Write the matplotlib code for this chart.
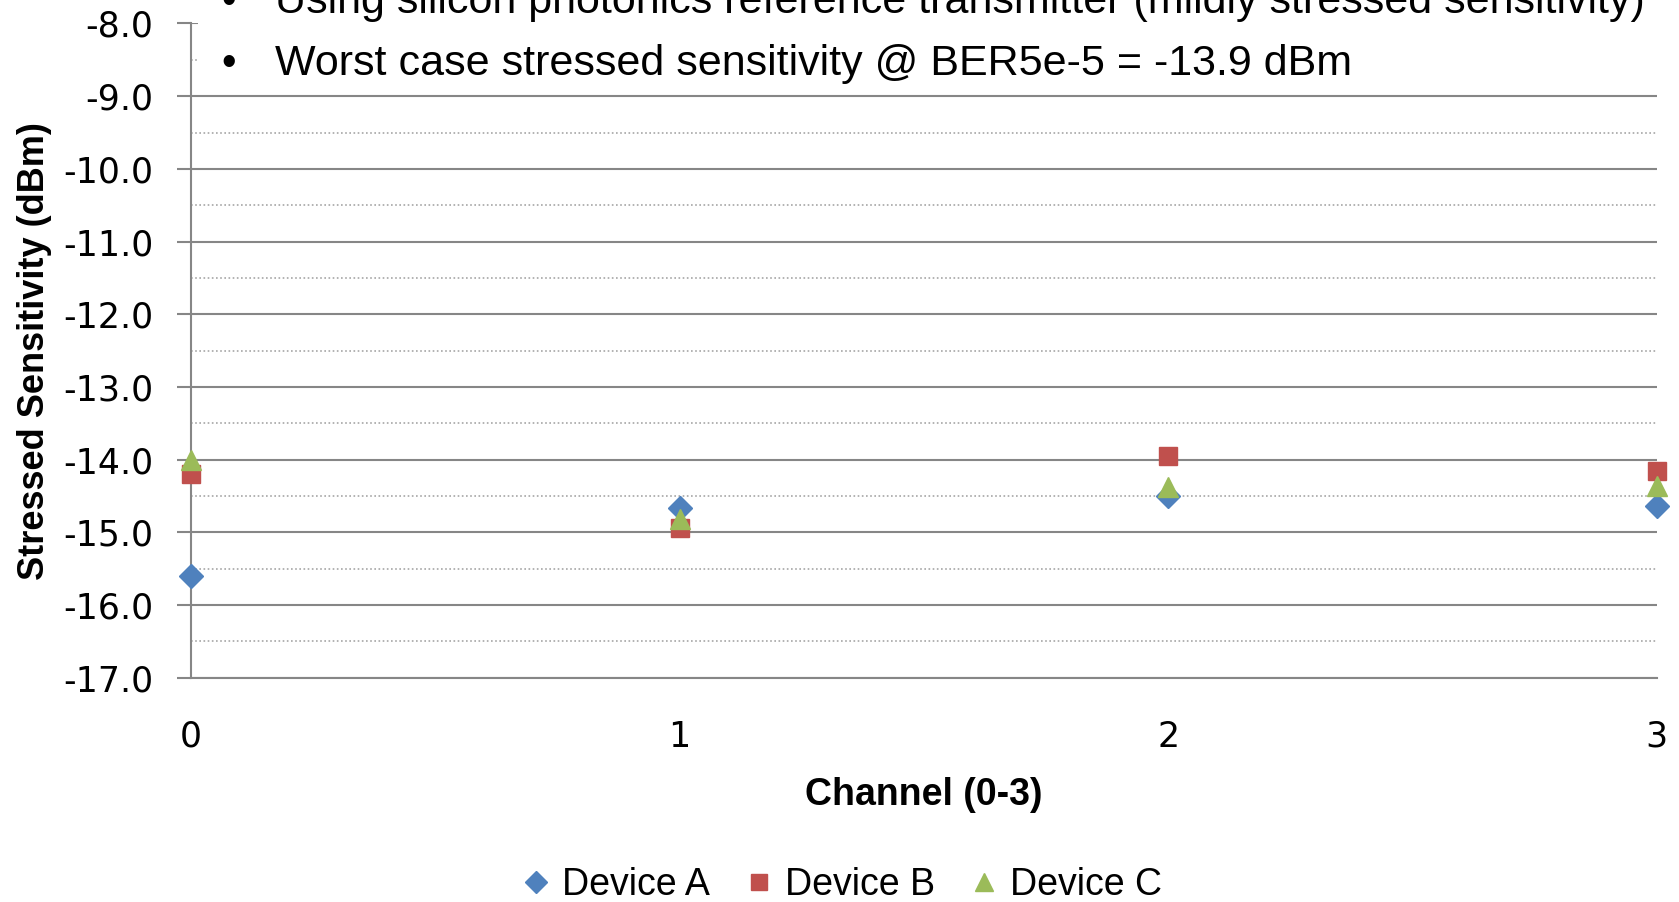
import matplotlib.pyplot as plt
import matplotlib.patches as patches
import numpy as np

# 数据
channels = [0, 1, 2, 3]
device_a = [-15.6, -14.67, -14.5, -14.64]
device_b = [-14.2, -14.94, -13.95, -14.16]
device_c = [-14.0, -14.82, -14.38, -14.36]
bullets = ["Using silicon photonics reference transmitter (mildly stressed sensitivity)",
           "Worst case stressed sensitivity @ BER5e-5 = -13.9 dBm"]

narrow = ['Liberation Sans', 'DejaVu Sans']

fig = plt.figure(figsize=(16.79, 9.02), dpi=100)
ax = fig.add_axes([0.1138, 0.2485, 0.873, 0.7255])

ax.set_xlim(0, 3)
ax.set_ylim(-17, -8)
ax.set_yticks(np.arange(-17, -7.9, 1.0))
ax.set_yticklabels(['%.1f' % v for v in np.arange(-17, -7.9, 1.0)], fontsize=25)
ax.set_yticks(np.arange(-16.5, -8, 1.0), minor=True)
ax.set_xticks(channels)
ax.set_xticklabels([str(c) for c in channels], fontsize=25)
ax.tick_params(axis='y', which='major', length=10, width=1.5, color='#868686', pad=17, direction='out')
ax.tick_params(axis='y', which='minor', length=0)
ax.tick_params(axis='x', length=0, pad=30)

ax.grid(axis='y', which='major', color='#868686', linewidth=1.5)
ax.grid(axis='y', which='minor', color='#a6a6a6', linewidth=1.2, linestyle=(0, (1, 1.5)))
ax.set_axisbelow(True)
for s in ['top', 'right']:
    ax.spines[s].set_visible(False)
for s in ['left', 'bottom']:
    ax.spines[s].set_color('#868686')
    ax.spines[s].set_linewidth(1.5)

ax.plot(channels, device_a, 'D', color='#4F81BD', markersize=12, label='Device A', clip_on=False, zorder=3)
ax.plot(channels, device_b, 's', color='#C0504D', markersize=13, label='Device B', clip_on=False, zorder=3)
ax.plot(channels, device_c, '^', color='#9BBB59', markersize=14, label='Device C', clip_on=False, zorder=3)

ax.set_xlabel('Channel (0-3)', fontsize=27, fontweight='bold', family=narrow, labelpad=17)
ax.set_ylabel('Stressed Sensitivity (dBm)', fontsize=26, fontweight='bold', family=narrow, labelpad=8)

# 文本框盖住顶部网格
fig.patches.append(patches.Rectangle((0.118, 0.905), 0.9, 0.1, transform=fig.transFigure,
                                     facecolor='white', edgecolor='none', zorder=5))
fig.text(0.132, 0.986, '\u2022', fontsize=30, family=narrow, va='baseline', zorder=6)
fig.text(0.164, 0.986, bullets[0], fontsize=31, family=narrow, va='baseline', zorder=6)
fig.text(0.132, 0.917, '\u2022', fontsize=30, family=narrow, va='baseline', zorder=6)
fig.text(0.164, 0.917, bullets[1], fontsize=31, family=narrow, va='baseline', zorder=6)

fig.legend(loc='center', bbox_to_anchor=(0.5, 0.019), ncol=3, frameon=False,
           prop={'family': narrow, 'size': 27}, handletextpad=0.2, columnspacing=0.8,
           handlelength=1.0, markerscale=0.9)

fig.savefig('out.png', dpi=100)
